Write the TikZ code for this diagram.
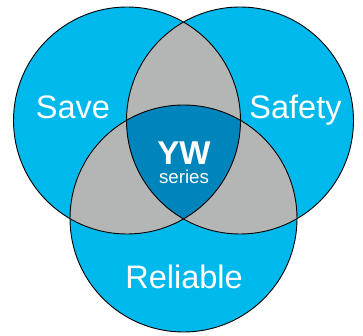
\documentclass[tikz,border=0pt]{standalone}
\usepackage{fontspec}
\setmainfont{Liberation Sans}
\definecolor{vcyan}{RGB}{0,185,236}
\definecolor{vgray}{RGB}{180,181,181}
\definecolor{vdark}{RGB}{0,132,188}
\begin{document}
\begin{tikzpicture}[x=1pt,y=-1pt,
  ring/.style={draw=black,line width=0.9pt},
  bigtxt/.style={text=white,anchor=base,inner sep=0pt,font=\fontsize{32.5}{38}\selectfont},
  ywtxt/.style={text=white,anchor=base,inner sep=0pt,font=\bfseries\fontsize{33}{38}\selectfont},
  smalltxt/.style={text=white,anchor=base,inner sep=0pt,font=\fontsize{18.7}{22}\selectfont}]
\useasboundingbox (0,0) rectangle (363,336);
\def\r{113.5}
\coordinate (L) at (127,120.5);
\coordinate (R) at (240,120.5);
\coordinate (B) at (183.5,218.5);
% base fills
\fill[vcyan] (L) circle (\r);
\fill[vcyan] (R) circle (\r);
\fill[vcyan] (B) circle (\r);
% pairwise intersections
\begin{scope}\clip (L) circle (\r); \fill[vgray] (R) circle (\r); \end{scope}
\begin{scope}\clip (L) circle (\r); \fill[vgray] (B) circle (\r); \end{scope}
\begin{scope}\clip (R) circle (\r); \fill[vgray] (B) circle (\r); \end{scope}
% triple intersection
\begin{scope}\clip (L) circle (\r); \clip (R) circle (\r); \fill[vdark] (B) circle (\r); \end{scope}
% outlines
\draw[ring] (L) circle (\r);
\draw[ring] (R) circle (\r);
\draw[ring] (B) circle (\r);
% labels
\node[bigtxt] (save) at (73,119) {Save};
\node[bigtxt] (safety) at (295.5,119) {Safety};
\node[bigtxt] (reliable) at (184,288) {Reliable};
\node[ywtxt] (yw) at (184,165) {YW};
\node[smalltxt] (series) at (184,183.5) {series};
\end{tikzpicture}
\end{document}
